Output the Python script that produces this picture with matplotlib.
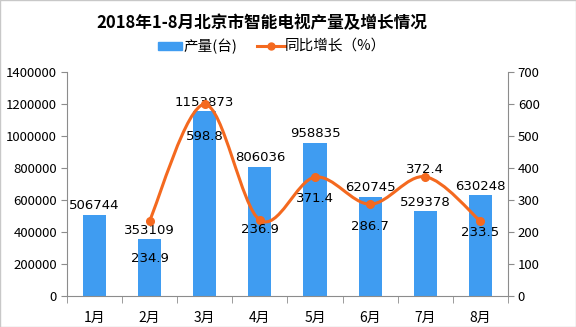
import numpy as np
import matplotlib
matplotlib.use("Agg")
import matplotlib.pyplot as plt
from matplotlib.path import Path
from matplotlib.patches import PathPatch, Rectangle

plt.rcParams['font.family'] = ['Noto Sans CJK SC', 'DejaVu Sans']

months = ['1月', '2月', '3月', '4月', '5月', '6月', '7月', '8月']
output = [506744, 353109, 1153873, 806036, 958835, 620745, 529378, 630248]
growth_months = [1, 2, 3, 4, 5, 6, 7]
growth = [234.9, 598.8, 236.9, 371.4, 286.7, 372.4, 233.5]
# label offsets (pixels) for the growth labels, as placed in the original
growth_label_dy = [-38, -32, -9, -21, -22, 7, -11]

bar_color = '#3f9cf1'
line_color = '#f4691f'
axis_color = '#8c8c8c'
px2pt = 0.72

fig = plt.figure(figsize=(5.76, 3.27), dpi=100)
ax = fig.add_axes([0.116, 0.095, 0.766, 0.685])
ax2 = ax.twinx()

x = np.arange(len(months))
ax.bar(x, output, width=0.42, color=bar_color, zorder=2)
ax.set_xlim(-0.5, 7.5)
ax.set_ylim(0, 1400000)
ax.set_yticks(np.arange(0, 1400001, 200000))
ax.set_yticklabels([str(v) for v in range(0, 1400001, 200000)])
ax.set_xticks(x)
ax.set_xticklabels(months)
ax.set_xticks(np.arange(-0.5, 8, 1), minor=True)
ax.tick_params(axis='x', which='major', length=0, pad=11, labelsize=10)
ax.tick_params(axis='x', which='minor', length=5, color=axis_color, direction='out')
ax.tick_params(axis='y', length=4, color=axis_color, labelsize=9.5, pad=3)

for i, v in enumerate(output):
    ax.annotate(str(v), (i, v), xytext=(0, 9 * px2pt), textcoords='offset points',
                ha='center', va='center', fontsize=9.5, family='DejaVu Sans', zorder=5)

# smooth curve through the growth points (Catmull-Rom as bezier path)
ax2.set_ylim(0, 700)
ax2.set_yticks(np.arange(0, 701, 100))
ax2.tick_params(axis='y', length=4, color=axis_color, labelsize=9.5, pad=3)
px = np.array(growth_months, dtype=float)
py = np.array(growth, dtype=float)
verts = [(px[0], py[0])]
codes = [Path.MOVETO]
n = len(px)
for i in range(n - 1):
    p0 = (px[max(i - 1, 0)], py[max(i - 1, 0)])
    p1 = (px[i], py[i])
    p2 = (px[i + 1], py[i + 1])
    p3 = (px[min(i + 2, n - 1)], py[min(i + 2, n - 1)])
    t = 0.5
    c1 = (p1[0] + (p2[0] - p0[0]) * t / 3, p1[1] + (p2[1] - p0[1]) * t / 3)
    c2 = (p2[0] - (p3[0] - p1[0]) * t / 3, p2[1] - (p3[1] - p1[1]) * t / 3)
    verts += [c1, c2, p2]
    codes += [Path.CURVE4] * 3
ax2.add_patch(PathPatch(Path(verts, codes), facecolor='none', edgecolor=line_color,
                        lw=2.2, zorder=3))
ax2.plot(px, py, 'o', color=line_color, ms=5.5, zorder=4)

for xi, v, dy in zip(growth_months, growth, growth_label_dy):
    ax2.annotate(f'{v}', (xi, v), xytext=(0, dy * px2pt), textcoords='offset points',
                 ha='center', va='center', fontsize=9.5, family='DejaVu Sans', zorder=5)

for a in (ax, ax2):
    a.spines['top'].set_visible(False)
    for s in ('left', 'right', 'bottom'):
        a.spines[s].set_color(axis_color)
ax.spines['right'].set_visible(False)
ax2.spines['left'].set_visible(False)
ax2.spines['bottom'].set_visible(False)

fig.text(0.455, 1 - 23 / 327, '2018年1-8月北京市智能电视产量及增长情况', ha='center', va='center',
         fontsize=12, fontweight='bold')

# legend
fig.patches.append(Rectangle((158 / 576, 1 - 50 / 327), 24 / 576, 8 / 327,
                             transform=fig.transFigure, color=bar_color))
fig.text(183 / 576, 1 - 46 / 327, '产量(台)', ha='left', va='center', fontsize=10.5)
fig.lines.append(plt.Line2D([257 / 576, 285 / 576], [1 - 46 / 327] * 2,
                            transform=fig.transFigure, color=line_color, lw=2.2))
fig.lines.append(plt.Line2D([271 / 576], [1 - 46 / 327], transform=fig.transFigure,
                            color=line_color, marker='o', ms=5))
fig.text(285 / 576, 1 - 46 / 327, '同比增长（%）', ha='left', va='center', fontsize=10.5)

fig.patches.append(Rectangle((0, 0), 1, 1, transform=fig.transFigure, fill=False,
                             edgecolor='#c8c8c8', lw=1))

fig.savefig('out.png', dpi=100)
